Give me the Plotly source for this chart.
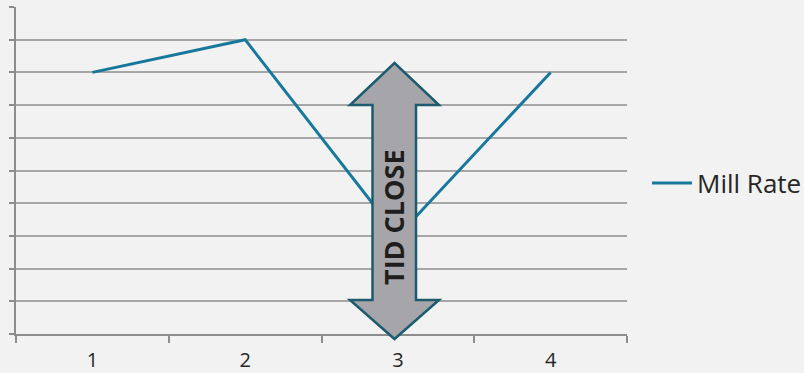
import plotly.graph_objects as go

# ---- data ----
categories = [1, 2, 3, 4]
mill_rate = [8, 9, 3, 8]
series_name = "Mill Rate"
arrow_label = "TID CLOSE"

# ---- layout constants (pixels) ----
W, H = 804, 373
ML, MR, MT, MB = 16, 177, 7, 39
PW = W - ML - MR
PH = H - MT - MB


def px(xp):
    return (xp - ML) / PW


def py(yp):
    return (H - MB - yp) / PH


BG = "#f2f2f2"
LINE = "#17789b"
GRID = "#a6a6a6"
AXIS = "#8c8c8c"

fig = go.Figure()
fig.add_trace(go.Scatter(
    x=categories, y=mill_rate, mode="lines", name=series_name,
    line=dict(color=LINE, width=3),
))

# double-headed arrow (decoration)
cx = 394.5
tip_top, base_top = 63, 105
base_bot, tip_bot = 300, 339
head_l, head_r = 350, 439
sh_l, sh_r = 372.5, 416
pts = [
    (cx, tip_top), (head_r, base_top), (sh_r, base_top), (sh_r, base_bot),
    (head_r, base_bot), (cx, tip_bot), (head_l, base_bot), (sh_l, base_bot),
    (sh_l, base_top), (head_l, base_top),
]
path = "M " + " L ".join(f"{px(a):.5f},{py(b):.5f}" for a, b in pts) + " Z"
fig.add_shape(type="path", path=path, xref="paper", yref="paper",
              fillcolor="#a6a6aa", line=dict(color="#1d5b6f", width=2.5),
              layer="above")
fig.add_annotation(text=f"<b>{arrow_label}</b>", x=px(394), y=py(217),
                   xref="paper", yref="paper", showarrow=False, textangle=-90,
                   font=dict(family="Open Sans", size=27, color="#1e1e1e"),
                   xanchor="center", yanchor="middle")

fig.update_layout(
    width=W, height=H,
    margin=dict(l=ML, r=MR, t=MT, b=MB, pad=0, autoexpand=False),
    paper_bgcolor=BG, plot_bgcolor=BG,
    font=dict(family="Open Sans", color="#262626"),
    showlegend=True,
    legend=dict(xref="container", yref="container",
                x=647 / W, y=1 - 183 / H, xanchor="left", yanchor="middle",
                bgcolor="rgba(0,0,0,0)", font=dict(size=26, color="#262626"),
                itemwidth=40),
    xaxis=dict(
        range=[0.5, 4.5], tickmode="array", tickvals=categories,
        ticktext=[str(c) for c in categories], ticks="",
        showgrid=False, zeroline=False, showline=True, linecolor=AXIS,
        linewidth=1.5, tickfont=dict(size=20, color="#262626"),
        ticklabelstandoff=7, automargin=False,
        minor=dict(tick0=0.5, dtick=1, ticks="outside", ticklen=7,
                   tickcolor=AXIS, tickwidth=1.5, showgrid=False),
    ),
    yaxis=dict(
        range=[0, 10], dtick=1, showticklabels=False, ticks="outside",
        ticklen=5, tickcolor=AXIS, tickwidth=1.5, showgrid=True,
        gridcolor=GRID, gridwidth=1.5, zeroline=False, showline=True,
        linecolor=AXIS, linewidth=1.5, automargin=False,
    ),
)

fig.write_html("out.html")
